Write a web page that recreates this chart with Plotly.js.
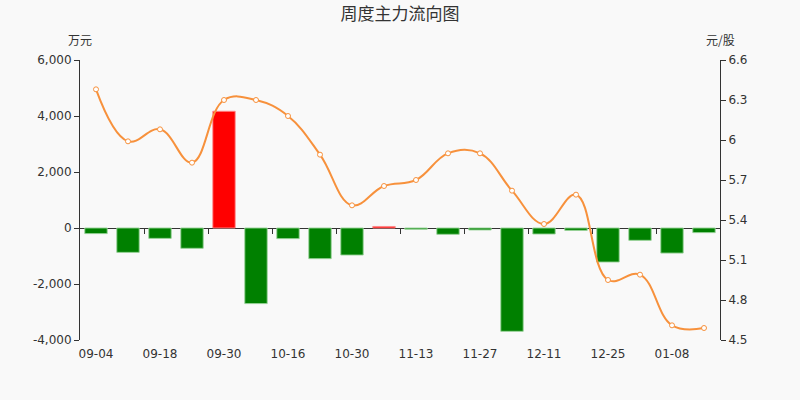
<!DOCTYPE html>
<html>
<head>
<meta charset="utf-8">
<script src="https://cdn.plot.ly/plotly-3.0.1.min.js"></script>
<style>html,body{margin:0;padding:0;background:#f9f9f9;}#chart{width:800px;height:400px;}</style>
</head>
<body>
<div id="chart"></div>
<script>
var categories = ["09-04","09-11","09-18","09-25","09-30","10-09","10-16","10-23","10-30","11-06",
                  "11-13","11-20","11-27","12-04","12-11","12-18","12-25","01-01","01-08","01-15"];
var mainFlow = [-200,-870,-370,-725,4170,-2700,-380,-1095,-965,55,
                -45,-225,-70,-3690,-215,-85,-1215,-440,-895,-165];
var price = [6.38,5.99,6.08,5.83,6.30,6.30,6.18,5.89,5.51,5.655,
             5.70,5.90,5.90,5.62,5.37,5.59,4.95,4.99,4.61,4.59];
var labelIdx = [0,2,4,6,8,10,12,14,16,18];
var tickLabels = ["09-04","09-18","09-30","10-16","10-30","11-13","11-27","12-11","12-25","01-08"];
var boundaryTicks = [1.5,3.5,5.5,7.5,9.5,11.5,13.5,15.5,17.5];
var flowTicks = [-4000,-2000,0,2000,4000,6000];

var idx = categories.map(function(_, i){ return i; });
var FONT = "DejaVu Sans, 'Noto Sans CJK SC', sans-serif";
var TXT = "#333";

var bars = {
  type: "bar",
  x: idx,
  y: mainFlow,
  width: 0.7,
  marker: {
    color: mainFlow.map(function(v){ return v >= 0 ? "#ff0000" : "#008000"; }),
    line: { color: mainFlow.map(function(v){ return v >= 0 ? "rgba(255,140,140,0.9)" : "rgba(150,210,150,0.9)"; }), width: 1 }
  },
  hoverinfo: "skip",
  xaxis: "x",
  yaxis: "y"
};
var line = {
  type: "scatter",
  mode: "lines+markers",
  x: idx,
  y: price,
  line: { color: "#f7913c", width: 2, shape: "spline", smoothing: 1.15 },
  marker: { symbol: "circle", size: 5, color: "#ffffff", line: { color: "#f7913c", width: 1 } },
  xaxis: "x",
  yaxis: "y2",
  hoverinfo: "skip"
};
var tickDummy = {
  type: "scatter", mode: "markers", x: [0], y: [0], xaxis: "x2", yaxis: "y",
  marker: { opacity: 0 }, hoverinfo: "skip", showlegend: false
};

var layout = {
  width: 800, height: 400,
  paper_bgcolor: "#f9f9f9", plot_bgcolor: "#f9f9f9",
  margin: { l: 80, r: 80, t: 60, b: 60 },
  showlegend: false,
  font: { family: FONT, size: 12, color: TXT },
  title: { text: "周度主力流向图", font: { family: "'Noto Sans CJK SC', sans-serif", size: 17, color: TXT },
           x: 0.5, xanchor: "center", y: 1 - 14/400, yanchor: "middle", yref: "container" },
  xaxis: {
    type: "linear", range: [-0.5, 19.5], fixedrange: true,
    tickmode: "array", tickvals: labelIdx, ticktext: tickLabels,
    ticks: "", ticklabelstandoff: 5, showline: false, showgrid: false, zeroline: false,
    tickfont: { family: FONT, size: 12, color: TXT }
  },
  xaxis2: {
    type: "linear", range: [-0.5, 19.5], overlaying: "x", anchor: "free", position: 0.4,
    tickmode: "array", tickvals: boundaryTicks, ticks: "outside", ticklen: 5, tickcolor: TXT,
    showticklabels: false, showline: false, showgrid: false, zeroline: false
  },
  yaxis: {
    range: [-4000, 6000], tickmode: "array", tickvals: flowTicks,
    ticktext: flowTicks.map(function(v){ return v.toLocaleString("en-US"); }),
    ticks: "outside", ticklen: 5, tickcolor: TXT, showline: true, linecolor: TXT, linewidth: 1,
    showgrid: false, zeroline: true, zerolinecolor: TXT, zerolinewidth: 1,
    tickfont: { family: FONT, size: 12, color: TXT }
  },
  yaxis2: {
    range: [4.5, 6.6], tickmode: "linear", tick0: 4.5, dtick: 0.3, tickformat: ".1~f",
    overlaying: "y", side: "right", anchor: "x",
    ticks: "outside", ticklen: 5, tickcolor: TXT, showline: true, linecolor: TXT, linewidth: 1,
    showgrid: false, zeroline: false,
    tickfont: { family: FONT, size: 12, color: TXT }
  },
  annotations: [
    { text: "万元", xref: "paper", yref: "paper", x: 0, y: 1 + 21/280, xanchor: "center", yanchor: "middle",
      showarrow: false, font: { family: "'Noto Sans CJK SC', sans-serif", size: 12, color: TXT } },
    { text: "元/股", xref: "paper", yref: "paper", x: 1, y: 1 + 21/280, xanchor: "center", yanchor: "middle",
      showarrow: false, font: { family: "'Noto Sans CJK SC', sans-serif", size: 12, color: TXT } }
  ]
};

Plotly.newPlot("chart", [bars, tickDummy, line], layout, { displayModeBar: false, staticPlot: true });
</script>
</body>
</html>
